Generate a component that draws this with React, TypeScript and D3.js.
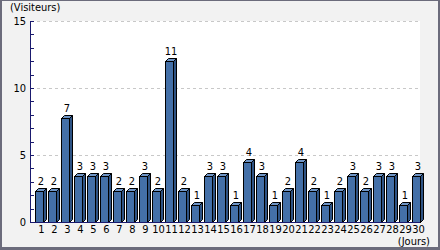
import React from "react";
import * as d3 from "d3";

const days: string[] = Array.from({ length: 30 }, (_, i) => String(i + 1));
const visitors: number[] = [2, 2, 7, 3, 3, 3, 2, 2, 3, 2, 11, 2, 1, 3, 3, 1, 4, 3, 1, 2, 4, 2, 1, 2, 3, 2, 3, 3, 1, 3];
const yTicks: number[] = [0, 5, 10, 15];
const minorTicks: number[] = d3.range(0, 16);
const yTitle = "(Visiteurs)";
const xTitle = "(Jours)";

const W = 440;
const H = 250;
const FONT = "'Liberation Sans Narrow', 'DejaVu Sans Condensed', 'Liberation Sans', sans-serif";

export default function App() {
  const x = d3.scaleBand<string>().domain(days).range([30, 420]).padding(0);
  const y = d3.scaleLinear().domain([0, 15]).range([222, 21]);
  const yBar = d3.scaleLinear().domain([0, 15]).range([219.4, 219.4 - 15 * 14.43]);
  const base = y(0);
  const depth = 3;
  const fw = 8;

  return (
    <svg width={W} height={H} style={{ position: "absolute", left: 0, top: 0, display: "block" }} fontFamily={FONT}>
      <rect x={0} y={0} width={W} height={H} fill="#6c6c7c" />
      <rect x={2} y={1} width={436} height={246} fill="#f2f2f2" />
      <rect x={30} y={21} width={390} height={201} fill="#ffffff" />
      {yTicks.filter((t) => t > 0).map((t) => (
        <line key={"g" + t} x1={31} x2={420} y1={Math.round(y(t)) + 0.5} y2={Math.round(y(t)) + 0.5}
          stroke="#c8c8c8" strokeDasharray="3,3" />
      ))}
      {days.map((d, i) => {
        const v = visitors[i];
        const x0 = Math.round((x(d) as number) + 5) + 0.5;
        const top = Math.round(yBar(v)) + 0.5;
        const b = base + 0.5;
        return (
          <g key={d} stroke="#000" strokeWidth={1} strokeLinejoin="miter">
            <polygon points={`${x0 + fw},${top} ${x0 + fw + depth},${top - depth} ${x0 + fw + depth},${b - depth} ${x0 + fw},${b}`} fill="#2e5384" />
            <polygon points={`${x0},${top} ${x0 + depth},${top - depth} ${x0 + fw + depth},${top - depth} ${x0 + fw},${top}`} fill="#6f95c6" />
            <rect x={x0} y={top} width={fw} height={b - top} fill="#4470a8" />
            <text x={x0 + (fw + depth) / 2} y={top - depth - 4} textAnchor="middle" fontSize={11} fill="#000" stroke="none">{v}</text>
          </g>
        );
      })}
      <line x1={30.5} x2={30.5} y1={21} y2={222} stroke="#1a1a6e" />
      <line x1={30} x2={420} y1={222.5} y2={222.5} stroke="#1a1a6e" />
      {minorTicks.map((t) => (
        <line key={"m" + t} x1={30} x2={34} y1={Math.round(y(t)) + 0.5} y2={Math.round(y(t)) + 0.5} stroke="#1a1a6e" />
      ))}
      {yTicks.map((t) => (
        <text key={"yl" + t} x={26} y={y(t) + 4} textAnchor="end" fontSize={11} fill="#000">{t}</text>
      ))}
      {days.map((d) => (
        <text key={"xl" + d} x={(x(d) as number) + 11.5} y={233} textAnchor="middle" fontSize={11} fill="#000">{d}</text>
      ))}
      <text x={10} y={11} fontSize={11} fill="#000">{yTitle}</text>
      <text x={430} y={245} textAnchor="end" fontSize={11} fill="#000">{xTitle}</text>
    </svg>
  );
}
